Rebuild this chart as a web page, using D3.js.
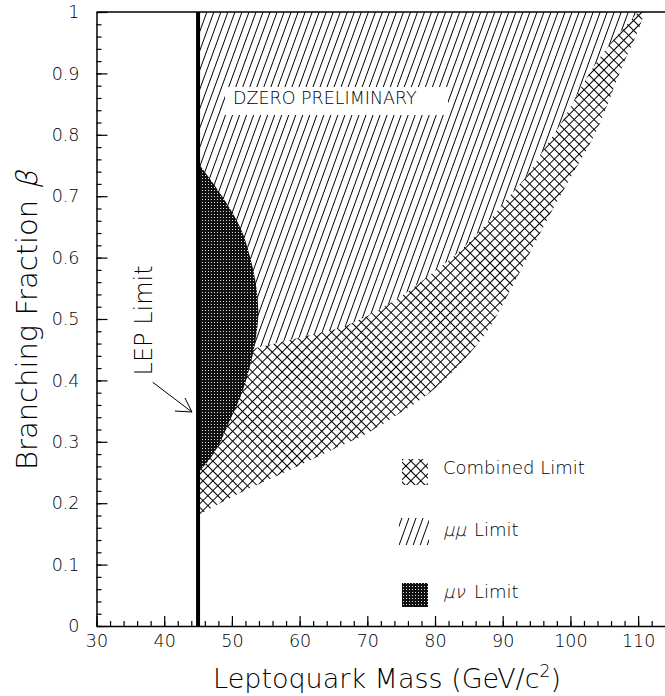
<!DOCTYPE html>
<html lang="en">
<head>
<meta charset="UTF-8">
<title>Leptoquark limits</title>
<script src="https://cdn.jsdelivr.net/npm/d3@7"></script>
<style>
  body { margin: 0; background: #fff; }
  svg text { font-family: "DejaVu Sans", sans-serif; font-weight: 200; fill: #000; }
</style>
</head>
<body>
<script>
// excluded regions
const lepMass = 45;

const combinedMass = [45, 50, 55, 60, 65, 70, 75, 80, 84, 88, 92, 96, 100, 104, 108, 110, 111];
const combinedBeta = [0.18, 0.21, 0.236, 0.262, 0.288, 0.314, 0.348, 0.387, 0.43, 0.485, 0.565, 0.65, 0.73, 0.81, 0.92, 0.97, 1.0];

const muMuMass = [45, 54, 60, 67, 70, 75, 80, 84, 88, 91, 94, 96, 98, 100, 102, 104, 106, 108, 110];
const muMuBeta = [0.43, 0.454, 0.47, 0.49, 0.505, 0.537, 0.578, 0.614, 0.66, 0.70, 0.74, 0.775, 0.808, 0.845, 0.885, 0.92, 0.95, 0.975, 1.0];

const muNuBeta = [0.25, 0.27, 0.29, 0.33, 0.38, 0.42, 0.46, 0.51, 0.56, 0.6, 0.65, 0.68, 0.72, 0.754];
const muNuMass = [45, 46.6, 47.8, 49.5, 51.5, 52.6, 53.4, 53.9, 53.5, 52.7, 51.2, 49.7, 47.3, 45];

const xTicks = [30, 40, 50, 60, 70, 80, 90, 100, 110];
const yTicks = [0, 0.1, 0.2, 0.3, 0.4, 0.5, 0.6, 0.7, 0.8, 0.9, 1];

const legendLabels = ["Combined Limit", "\u03bc\u03bc", "\u03bc\u03bd"];

const width = 665, height = 696;

const svg = d3.select("body").append("svg")
    .attr("width", width)
    .attr("height", height);

const x = d3.scaleLinear().domain([30, 114]).range([96.5, 665.2]);
const y = d3.scaleLinear().domain([0, 1]).range([626, 12]);

// fill patterns
const defs = svg.append("defs");

const cross = defs.append("pattern")
    .attr("id", "cross")
    .attr("patternUnits", "userSpaceOnUse")
    .attr("width", 7).attr("height", 7)
    .attr("patternTransform", "rotate(45)");
cross.append("path")
    .attr("d", "M0,0.5H7M0.5,0V7")
    .attr("stroke", "#000").attr("stroke-width", 1.1)
    .attr("shape-rendering", "crispEdges");

const hatch = defs.append("pattern")
    .attr("id", "hatch")
    .attr("patternUnits", "userSpaceOnUse")
    .attr("width", 6.6).attr("height", 10)
    .attr("patternTransform", "rotate(20)");
hatch.append("rect").attr("width", 6.6).attr("height", 10).attr("fill", "#fff");
hatch.append("path")
    .attr("d", "M0.6,0V10")
    .attr("stroke", "#000").attr("stroke-width", 1.2)
    .attr("shape-rendering", "crispEdges");

const dots = defs.append("pattern")
    .attr("id", "dots")
    .attr("patternUnits", "userSpaceOnUse")
    .attr("width", 3).attr("height", 3);
dots.append("rect").attr("width", 3).attr("height", 3).attr("fill", "#111");
dots.append("rect").attr("x", 1).attr("y", 1).attr("width", 1).attr("height", 1).attr("fill", "#ddd");

// combined limit
const combined = combinedMass.map((m, i) => [m, combinedBeta[i]]);
svg.append("path")
    .datum(combined)
    .attr("fill", "url(#cross)")
    .attr("d", d3.area()
        .x(d => x(d[0]))
        .y0(d => y(d[1]))
        .y1(y(1))
        .curve(d3.curveMonotoneX));

// mu mu limit
const muMu = muMuMass.map((m, i) => [m, muMuBeta[i]]);
svg.append("path")
    .datum(muMu)
    .attr("fill", "url(#hatch)")
    .attr("d", d3.area()
        .x(d => x(d[0]))
        .y0(d => y(d[1]))
        .y1(y(1))
        .curve(d3.curveMonotoneX));

// mu nu limit
const muNu = muNuBeta.map((b, i) => [muNuMass[i], b]);
svg.append("path")
    .datum(muNu)
    .attr("fill", "url(#dots)")
    .attr("d", d3.area()
        .y(d => y(d[1]))
        .x0(x(lepMass))
        .x1(d => x(d[0]))
        .curve(d3.curveMonotoneY));

// DZERO label
svg.append("rect")
    .attr("x", 225).attr("y", 87).attr("width", 223).attr("height", 28)
    .attr("fill", "#fff");
svg.append("text")
    .attr("x", 233).attr("y", 104)
    .style("font-size", "17.5px")
    .text("DZERO PRELIMINARY");

// LEP line
svg.append("line")
    .attr("x1", x(lepMass)).attr("x2", x(lepMass))
    .attr("y1", y(0)).attr("y2", y(1))
    .attr("stroke", "#000").attr("stroke-width", 4);

// LEP annotation
svg.append("text")
    .attr("transform", `translate(152,${y(0.408)}) rotate(-90)`)
    .style("font-size", "24px")
    .text("LEP Limit");
const tip = [x(44.1), y(0.3485)];
svg.append("path")
    .attr("d", `M${x(38.3)},${y(0.397)}L${tip[0]},${tip[1]}M${tip[0] - 17},${tip[1] - 1}L${tip[0]},${tip[1]}L${tip[0] - 7},${tip[1] - 14}`)
    .attr("fill", "none").attr("stroke", "#000").attr("stroke-width", 1);

// axes
svg.append("g")
    .attr("transform", `translate(0,${y(0)})`)
    .call(d3.axisBottom(x).tickValues(xTicks).tickSize(-10).tickSizeOuter(0).tickPadding(9).tickFormat(d3.format("d")));
svg.append("g")
    .attr("transform", `translate(0,${y(0)})`)
    .call(d3.axisBottom(x).tickValues(d3.range(30, 114, 2)).tickSize(-5).tickSizeOuter(0).tickFormat(""))
    .call(g => g.select(".domain").remove());

svg.append("g")
    .attr("transform", `translate(${x(30)},0)`)
    .call(d3.axisLeft(y).tickValues(yTicks).tickSize(-11).tickSizeOuter(0).tickPadding(17)
        .tickFormat(d => (d === 0 || d === 1) ? String(d) : d.toFixed(1)));
svg.append("g")
    .attr("transform", `translate(${x(30)},0)`)
    .call(d3.axisLeft(y).tickValues(d3.range(0, 1.001, 0.02)).tickSize(-5).tickSizeOuter(0).tickFormat(""))
    .call(g => g.select(".domain").remove());

svg.selectAll(".domain").attr("stroke", "#000").attr("stroke-width", 1.5);
svg.selectAll(".tick line").attr("stroke", "#000").attr("stroke-width", 1.2);
svg.selectAll(".tick text")
    .style("font-family", "DejaVu Sans, sans-serif")
    .style("font-weight", 200)
    .style("font-size", "17.5px")
    .attr("fill", "#000");

// top frame
svg.append("line")
    .attr("x1", x(30)).attr("x2", x(114))
    .attr("y1", y(1)).attr("y2", y(1))
    .attr("stroke", "#000").attr("stroke-width", 1.5);

// axis titles
const xt = svg.append("text")
    .attr("x", 387).attr("y", 688)
    .attr("text-anchor", "middle")
    .style("font-size", "27px");
xt.append("tspan").text("Leptoquark Mass (GeV/c");
xt.append("tspan").attr("dy", -11).style("font-size", "17px").text("2");
xt.append("tspan").attr("dy", 11).text(")");

svg.append("text")
    .attr("transform", `translate(37,470) rotate(-90)`)
    .style("font-size", "29px")
    .text("Branching Fraction");
// slanted greek letter, kept light
svg.append("text")
    .attr("transform", `translate(37,189) rotate(-90) skewX(-14)`)
    .style("font-size", "29px")
    .text("\u03b2");

// legend
svg.append("rect")
    .attr("x", 402).attr("y", 459).attr("width", 26).attr("height", 26)
    .attr("fill", "url(#cross)");
svg.append("text")
    .attr("x", 443).attr("y", 474)
    .style("font-size", "18px")
    .text(legendLabels[0]);

svg.append("rect")
    .attr("x", 399).attr("y", 518).attr("width", 30).attr("height", 27)
    .attr("fill", "url(#hatch)");
svg.append("text")
    .attr("transform", "translate(443,536) skewX(-14)")
    .style("font-size", "18px")
    .text(legendLabels[1]);
svg.append("text")
    .attr("x", 474).attr("y", 536)
    .style("font-size", "18px")
    .text("Limit");

svg.append("rect")
    .attr("x", 402).attr("y", 583).attr("width", 26).attr("height", 24)
    .attr("fill", "url(#dots)");
svg.append("text")
    .attr("transform", "translate(443,598) skewX(-14)")
    .style("font-size", "18px")
    .text(legendLabels[2]);
svg.append("text")
    .attr("x", 474).attr("y", 598)
    .style("font-size", "18px")
    .text("Limit");
</script>
</body>
</html>
